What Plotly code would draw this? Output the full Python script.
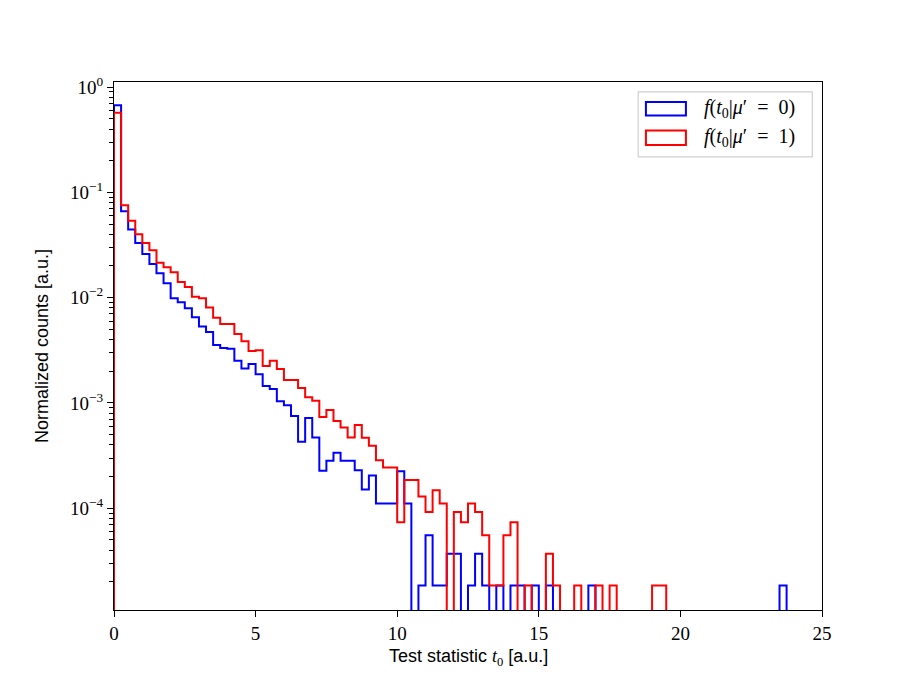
"""
Log-scale step histograms of the test statistic t0 under mu'=0 and mu'=1.
"""

import numpy as np
import plotly.graph_objects as go

# Binning: 100 bins of width 0.25 on [0, 25]
BIN_WIDTH = 0.25
N_BINS = 100

# Normalized counts per bin (0 = empty bin)
blue_mu0 = [
    0.674, 0.0663, 0.0443, 0.0331, 0.0260, 0.0209, 0.0171, 0.0137, 0.00987, 0.00904,
    0.00793, 0.00651, 0.00532, 0.00472, 0.00355, 0.00333, 0.00327, 0.00252, 0.00213, 0.00234,
    0.00187, 0.00145, 0.00136, 0.00104, 0.000949, 0.000751, 0.000428, 0.000719, 0.000471, 0.000227,
    0.000282, 0.000336, 0.000282, 0.000282, 0.000230, 0.000151, 0.000205, 0.000111, 0.000111, 0.000111,
    0.000225, 0.000111, 0, 1.85e-5, 5.54e-5, 1.85e-5, 1.85e-5, 3.69e-5, 3.69e-5, 0,
    1.85e-5, 3.69e-5, 1.85e-5, 0, 1.85e-5, 0, 1.85e-5, 1.85e-5, 0, 1.85e-5,
    0, 1.85e-5, 0, 0, 0, 0, 0, 1.85e-5, 0, 0,
    0, 0, 0, 0, 0, 0, 0, 0, 0, 0,
    0, 0, 0, 0, 0, 0, 0, 0, 0, 0,
    0, 0, 0, 0, 1.85e-5, 0, 0, 0, 0, 0,
]

red_mu1 = [
    0.570, 0.0756, 0.0539, 0.0401, 0.0331, 0.0282, 0.0215, 0.0194, 0.0174, 0.0141,
    0.0126, 0.0102, 0.00987, 0.00807, 0.00646, 0.00562, 0.00562, 0.00452, 0.00385, 0.00311,
    0.00316, 0.00224, 0.00252, 0.00210, 0.00165, 0.00165, 0.00139, 0.00113, 0.00105, 0.000735,
    0.000856, 0.000673, 0.000586, 0.000471, 0.000616, 0.000467, 0.000392, 0.000285, 0.000244, 0.000244,
    7.38e-5, 1.85e-4, 1.85e-4, 1.29e-4, 9.23e-5, 1.48e-4, 1.11e-4, 0, 9.23e-5, 7.38e-5,
    1.11e-4, 9.23e-5, 5.54e-5, 1.85e-5, 1.85e-5, 5.54e-5, 7.38e-5, 0, 1.85e-5, 0,
    0, 3.69e-5, 1.85e-5, 0, 0, 1.85e-5, 0, 0, 1.85e-5, 0,
    1.85e-5, 0, 0, 0, 0, 0, 1.85e-5, 1.85e-5, 0, 0,
    0, 0, 0, 0, 0, 0, 0, 0, 0, 0,
    0, 0, 0, 0, 0, 0, 0, 0, 0, 0,
]

legend_labels = [
    "<i>f</i>(<i>t</i><sub>0</sub>|<i>μ</i>′&nbsp; = &nbsp;0)",
    "<i>f</i>(<i>t</i><sub>0</sub>|<i>μ</i>′&nbsp; = &nbsp;1)",
]
x_title = "Test statistic <span style='font-family:Liberation Serif'><i>t</i><sub>0</sub></span> [a.u.]"
y_title = "Normalized counts [a.u.]"

X_RANGE = (0, 25)
X_TICKS = [0, 5, 10, 15, 20, 25]
Y_RANGE = (1.08e-5, 1.118)
Y_TICK_EXP = [0, -1, -2, -3, -4]

BLUE = "#0000ff"
RED = "#ff0000"
SERIF = "Liberation Serif"
SANS = "Liberation Sans"

edges = np.arange(N_BINS + 1) * BIN_WIDTH
FLOOR = 1e-9  # empty bins drop below the log axis, like matplotlib


def step_xy(values):
    v = np.asarray(values, dtype=float)
    v = np.where(v > 0, v, FLOOR)
    x = np.concatenate([[edges[0]], edges])
    y = np.concatenate([[FLOOR], v, [FLOOR]])
    return x, y


fig = go.Figure()
for vals, color in [(blue_mu0, BLUE), (red_mu1, RED)]:
    x, y = step_xy(vals)
    fig.add_trace(go.Scatter(x=x, y=y, mode="lines",
                             line=dict(color=color, width=2, shape="hv"),
                             showlegend=False, hoverinfo="skip"))

# minor log ticks 2..9 x 10^e
minor_vals = [m * 10.0 ** e for e in range(-5, 1) for m in range(2, 10)
              if Y_RANGE[0] < m * 10.0 ** e < Y_RANGE[1]]

fig.update_xaxes(
    range=list(X_RANGE), tickvals=X_TICKS, ticktext=[str(t) for t in X_TICKS],
    ticks="outside", ticklen=6, tickwidth=1.3, tickcolor="black",
    showline=True, linecolor="black", linewidth=1.3, mirror=True,
    showgrid=False, zeroline=False,
    tickfont=dict(family=SERIF, size=19, color="black"),
)
fig.update_yaxes(
    type="log", range=[np.log10(Y_RANGE[0]), np.log10(Y_RANGE[1])],
    tickvals=[10.0 ** e for e in Y_TICK_EXP],
    ticktext=["10<sup>%s</sup>" % (str(e).replace("-", "−")) for e in Y_TICK_EXP],
    ticks="outside", ticklen=6, tickwidth=1.3, tickcolor="black",
    minor=dict(tickvals=minor_vals, ticks="outside", ticklen=3.5, tickwidth=1, tickcolor="black"),
    showline=True, linecolor="black", linewidth=1.3, mirror=True,
    showgrid=False, zeroline=False,
    tickfont=dict(family=SERIF, size=19, color="black"),
)

# axis titles as annotations so they sit where the reference has them
fig.add_annotation(xref="paper", yref="paper", x=0.5, y=0, yshift=-47,
                   xanchor="center", yanchor="middle", showarrow=False,
                   text=x_title, font=dict(family=SANS, size=18, color="black"))
fig.add_annotation(xref="paper", yref="paper", x=0, y=0.5, xshift=-72,
                   xanchor="center", yanchor="middle", showarrow=False, textangle=-90,
                   text=y_title, font=dict(family=SANS, size=18, color="black"))

# legend drawn by hand: outlined patches like matplotlib's step-hist legend
fig.add_shape(type="rect", xref="paper", yref="paper",
              x0=0.7404, x1=0.9863, y0=0.8582, y1=0.9814,
              line=dict(color="#d0d0d0", width=1.2), fillcolor="rgba(255,255,255,0.8)")
for (y0, y1, yc), color, label in zip([(0.9365, 0.9619, 0.9492), (0.8809, 0.9081, 0.8942)],
                                     [BLUE, RED], legend_labels):
    fig.add_shape(type="rect", xref="paper", yref="paper",
                  x0=0.7513, x1=0.8078, y0=y0, y1=y1,
                  line=dict(color=color, width=2), fillcolor="rgba(0,0,0,0)")
    fig.add_annotation(xref="paper", yref="paper", x=0.8304, y=yc,
                       xanchor="left", yanchor="middle", showarrow=False,
                       text=label, font=dict(family=SERIF, size=20, color="black"))

# the page body adds an 8px offset, so margins are shifted to keep the axes in place
fig.update_layout(
    width=913, height=685,
    margin=dict(l=106.1, r=99.3, t=74.2, b=83.35, autoexpand=False),
    plot_bgcolor="white", paper_bgcolor="white",
    showlegend=False,
)

fig.write_html("out.html")
